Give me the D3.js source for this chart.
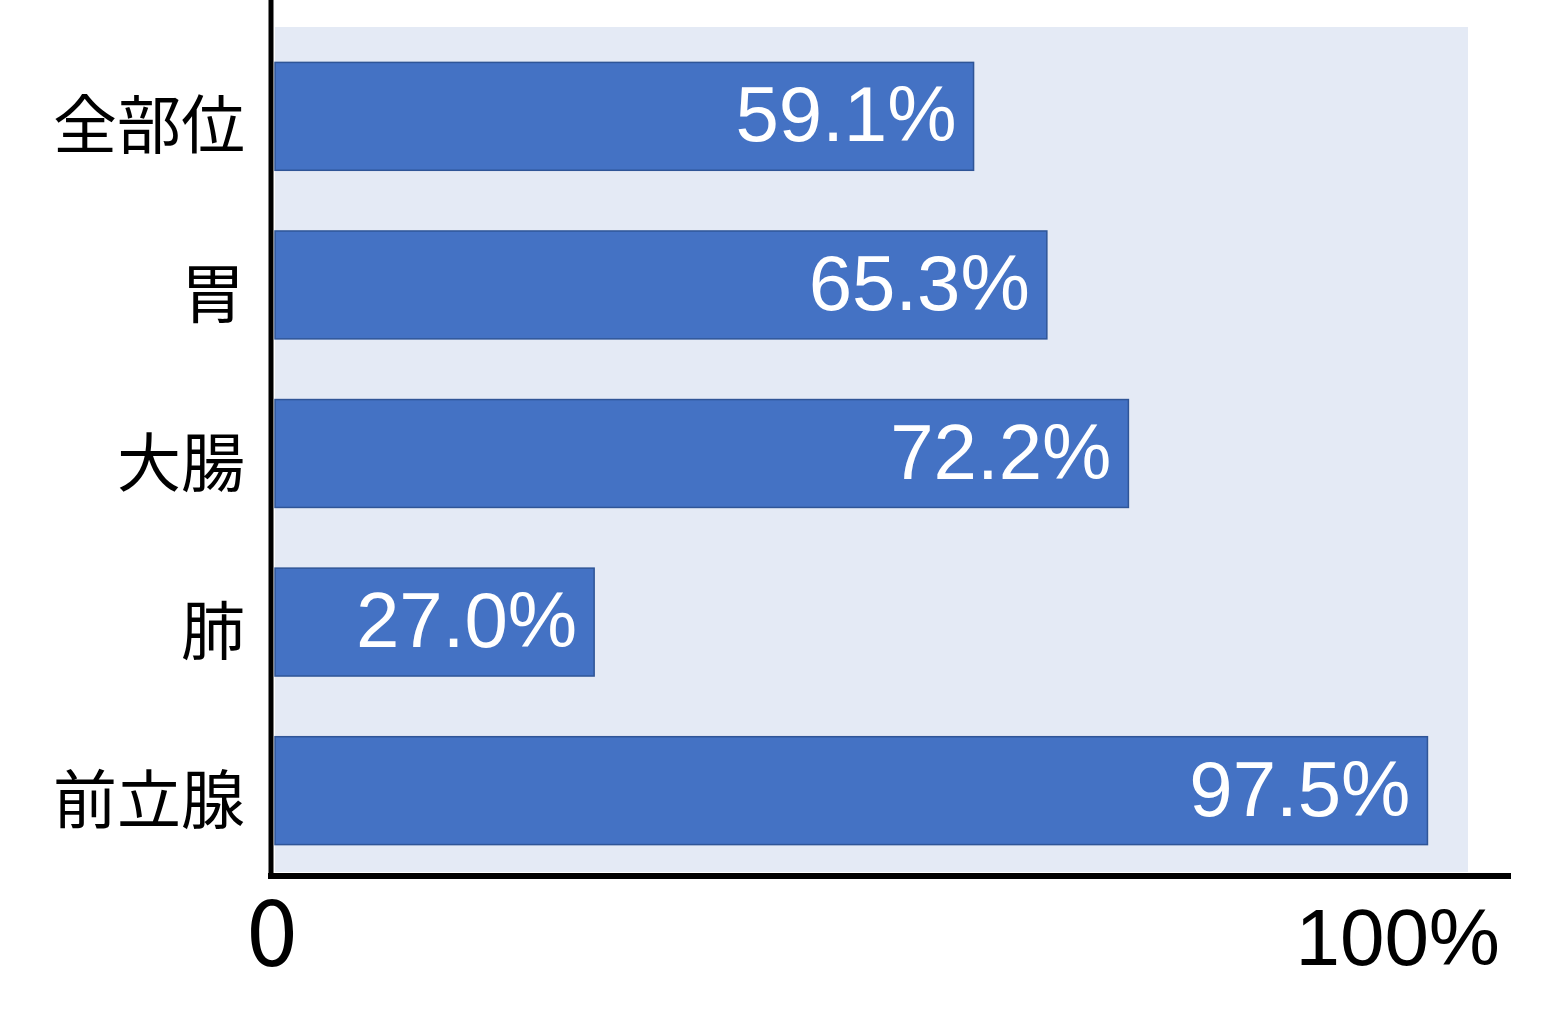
<!DOCTYPE html>
<html><head><meta charset="utf-8">
<script src="https://cdn.jsdelivr.net/npm/d3@7"></script>
<style>body{margin:0;background:#fff}</style>
</head><body>
<svg id="c" width="1543" height="1019"></svg>
<script>
const categories = ["全部位","胃","大腸","肺","前立腺"];
const values = [59.1, 65.3, 72.2, 27.0, 97.5];
const tickLabels = ["0","100%"];
const tickValues = [0, 100];

const svg = d3.select("#c");
const x = d3.scaleLinear().domain([0,100]).range([275,1457]);
const y = d3.scaleBand().domain(categories).range([27,880]).paddingInner(0.36).paddingOuter(0.21);

// plot background
svg.append("rect").attr("x",275).attr("y",27).attr("width",1468-275).attr("height",872-27).attr("fill","#E4EAF5");

// bars
svg.selectAll("rect.bar").data(values).enter().append("rect").attr("class","bar")
  .attr("x",x(0)).attr("y",(d,i)=>y(categories[i]))
  .attr("width",d=>x(d)-x(0)).attr("height",y.bandwidth())
  .attr("fill","#4472C4").attr("stroke","#2F5597").attr("stroke-width",1.5);

// value labels
svg.selectAll("text.val").data(values).enter().append("text").attr("class","val")
  .attr("x",d=>x(d)-17).attr("y",(d,i)=>y(categories[i])+y.bandwidth()/2+25)
  .attr("text-anchor","end").attr("fill","#fff")
  .attr("font-family","'Liberation Sans', Arial, sans-serif").attr("font-size",78)
  .text(d=>d.toFixed(1)+"%");

// category labels
svg.selectAll("text.cat").data(categories).enter().append("text").attr("class","cat")
  .attr("x",245).attr("y",d=>y(d)+y.bandwidth()/2+4)
  .attr("text-anchor","end").attr("dominant-baseline","central")
  .attr("fill","#000").attr("font-family","'Noto Sans CJK JP', sans-serif").attr("font-size",64)
  .text(d=>d);

// axes lines
svg.append("line").attr("x1",271).attr("x2",271).attr("y1",0).attr("y2",879).attr("stroke","#000").attr("stroke-width",5);
svg.append("line").attr("x1",268).attr("x2",1511).attr("y1",876).attr("y2",876).attr("stroke","#000").attr("stroke-width",6);

// tick labels
svg.append("text").attr("x",272).attr("y",966).attr("text-anchor","middle")
  .attr("font-family","'Noto Sans CJK JP', sans-serif").attr("font-size",92).attr("fill","#000").text(tickLabels[0]);
svg.append("text").attr("x",1500).attr("y",965).attr("text-anchor","end")
  .attr("font-family","'Liberation Sans', Arial, sans-serif").attr("font-size",80).attr("fill","#000").text(tickLabels[1]);
</script>
</body></html>
